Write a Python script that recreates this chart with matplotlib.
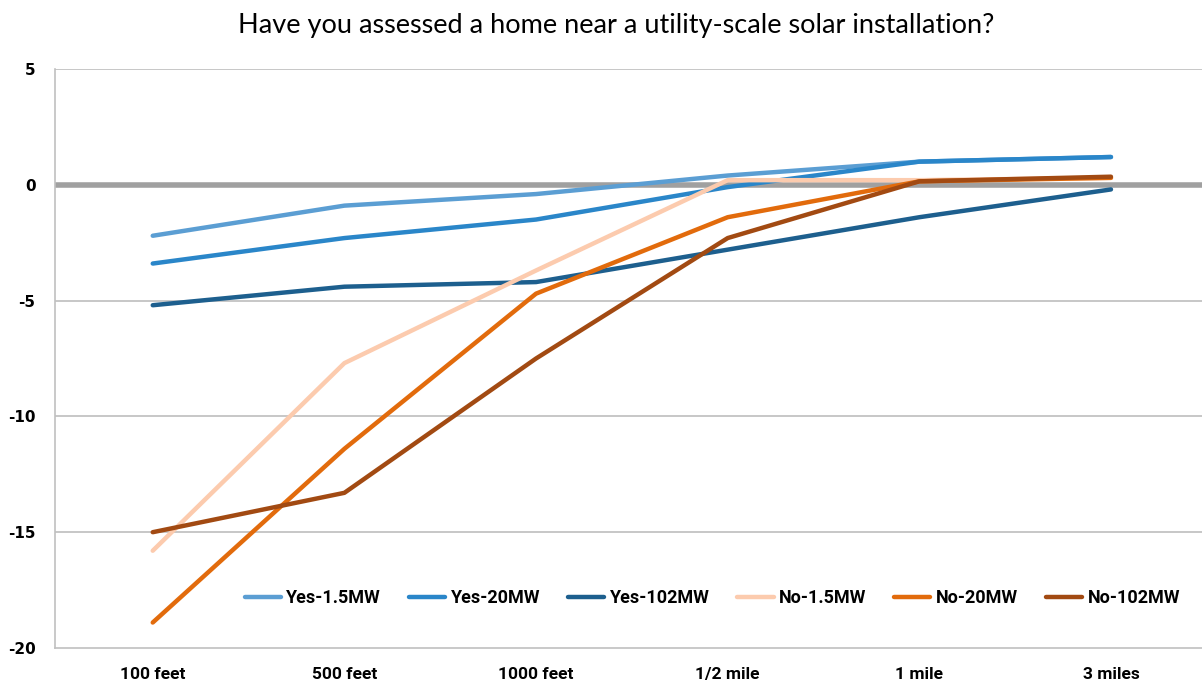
import matplotlib
matplotlib.use("Agg")
import matplotlib.pyplot as plt

categories = ["100 feet", "500 feet", "1000 feet", "1/2 mile", "1 mile", "3 miles"]
yes_15 = [-2.2, -0.9, -0.4, 0.4, 1.0, 1.2]
yes_20 = [-3.4, -2.3, -1.5, -0.1, 1.0, 1.2]
yes_102 = [-5.2, -4.4, -4.2, -2.8, -1.4, -0.2]
no_15 = [-15.8, -7.7, -3.7, 0.2, 0.2, 0.3]
no_20 = [-18.9, -11.4, -4.7, -1.4, 0.15, 0.3]
no_102 = [-15.0, -13.3, -7.5, -2.3, 0.15, 0.35]
series_names = ["Yes-1.5MW", "Yes-20MW", "Yes-102MW", "No-1.5MW", "No-20MW", "No-102MW"]
colors = ["#5b9ed3", "#2a86c9", "#1d5f8e", "#fccbae", "#e26b0c", "#a24a12"]
title = "Have you assessed a home near a utility-scale solar installation?"
yticks = [5, 0, -5, -10, -15, -20]

fig = plt.figure(figsize=(12.02, 6.86), dpi=100)
ax = fig.add_axes([55/1202, 1-648/686, 1-55/1202, (648-69)/686])

xs = list(range(len(categories)))
for vals, name, c in zip([yes_15, yes_20, yes_102, no_15, no_20, no_102], series_names, colors):
    ax.plot(xs, vals, color=c, lw=3.2, label=name, solid_capstyle="round", zorder=3)

ax.set_xlim(-0.51, 5.475)
ax.set_ylim(-20, 5)
ax.set_yticks(yticks)
ax.set_yticklabels([str(t) for t in yticks], fontfamily="DejaVu Sans", fontweight="bold", fontsize=11)
for t in yticks:
    if t == 0:
        ax.axhline(0, color="#a0a0a0", lw=4, zorder=2)
    elif t != -20:
        ax.axhline(t, color="#bdbdbd", lw=1.2, zorder=1)
ax.tick_params(axis="y", length=0, pad=14)
ax.set_xticks(xs)
ax.set_xticklabels(categories, fontfamily="Roboto", fontweight="bold", fontsize=12.5)
ax.tick_params(axis="x", length=0, pad=14)
for s in ["top", "right"]:
    ax.spines[s].set_visible(False)
ax.spines["left"].set_color("#c0c0c0")
ax.spines["bottom"].set_color("#c0c0c0")
ax.spines["left"].set_linewidth(1.2)
ax.spines["bottom"].set_linewidth(1.2)

leg = ax.legend(loc="lower right", ncol=6, frameon=False, bbox_to_anchor=(0.995, 0.043),
                prop={"family": "Roboto", "weight": "bold", "size": 13},
                handlelength=2.0, handletextpad=0.3, columnspacing=1.55)

fig.text(616/1202, 1-25/686, title, ha="center", va="center", fontsize=19.5, fontfamily="Lato")
fig.savefig("out.png", dpi=100)
